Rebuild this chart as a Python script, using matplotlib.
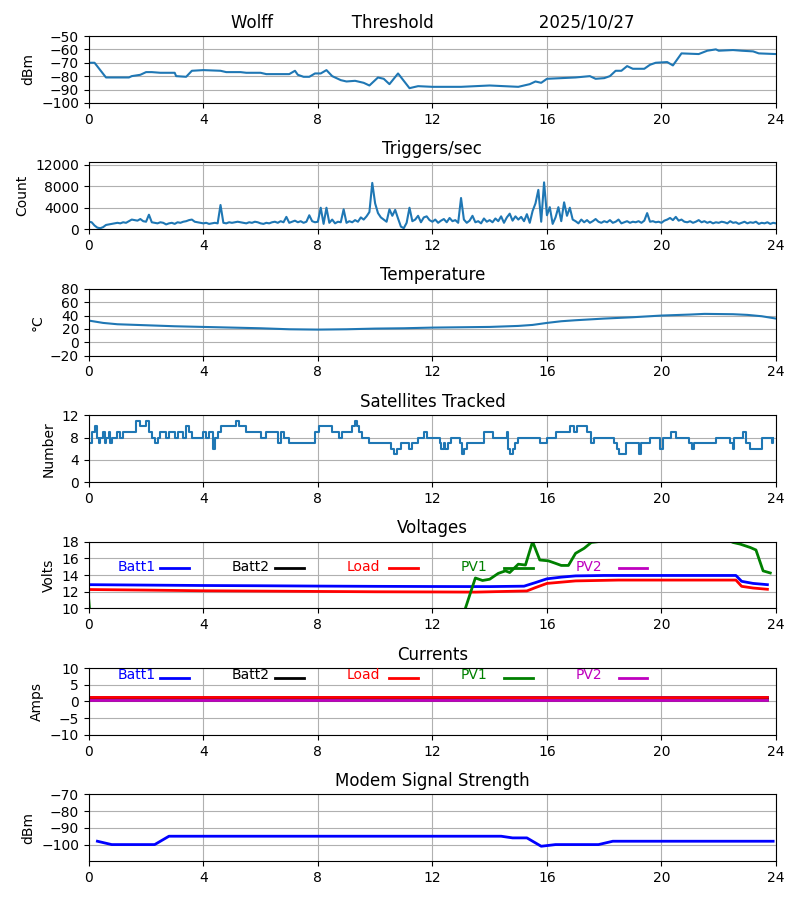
'''
Daily station summary plot: threshold, triggers, temperature,
satellites, voltages, currents and modem signal.
Output is out.png
'''

import matplotlib
matplotlib.use('Agg')
import matplotlib.pyplot as plt
import numpy as np

#Threshold (dBm)
thr_t = [0, 0.2, 0.6, 1.4, 1.5, 1.8, 2.0, 2.2, 2.5, 3.0, 3.05, 3.4, 3.6, 4.0, 4.6, 4.8, 5.3, 5.5,
         6.0, 6.2, 7.0, 7.2, 7.3, 7.5, 7.7, 7.9, 8.1, 8.3, 8.5, 8.8, 9.0, 9.3, 9.6, 9.8, 10.1,
         10.3, 10.5, 10.8, 11.2, 11.5, 12.0, 13.0, 14.0, 15.0, 15.4, 15.6, 15.8, 16.0, 16.5,
         17.0, 17.5, 17.7, 18.0, 18.2, 18.4, 18.6, 18.8, 19.0, 19.4, 19.6, 19.8, 20.2, 20.4,
         20.7, 21.3, 21.6, 21.9, 22.0, 22.5, 22.8, 23.2, 23.4, 24.0]
thr_v = [-70, -70, -81, -81, -80, -79, -77, -77, -77.5, -77.5, -80, -80.5, -76, -75.5, -76, -77,
         -77, -77.5, -77.5, -78.5, -78.5, -76, -79, -80.5, -80.5, -78, -78, -75.5, -80, -83,
         -84, -83.5, -85, -87, -81, -82, -86, -78, -89, -87.5, -88, -88, -87, -88, -86, -84,
         -85, -82, -81.5, -81, -80, -82, -81.5, -80, -76, -76, -72.5, -74.5, -74.5, -71.5,
         -70, -69.5, -72, -63, -63.5, -61, -60, -61, -60.5, -61, -61.5, -63, -63.5]

#Triggers/sec, one value every 6 minutes
trig = [1400, 1300, 700, 300, 200, 400, 800, 900, 1000, 1100,
        1200, 1100, 1300, 1200, 1500, 1800, 1700, 1600, 1900, 1500,
        1400, 2700, 1300, 1200, 1100, 1300, 1200, 900, 1100, 1200,
        1000, 1300, 1200, 1400, 1500, 1700, 1800, 1400, 1300, 1200,
        1100, 1200, 1000, 1100, 1200, 1100, 4500, 1200, 1100, 1300,
        1200, 1300, 1400, 1300, 1200, 1100, 1300, 1200, 1400, 1300,
        1100, 1000, 1200, 1100, 1300, 1400, 1200, 1500, 1300, 2300,
        1200, 1400, 1600, 1300, 1500, 1200, 1400, 2600, 1500, 1300,
        1400, 4000, 1000, 4000, 1200, 1800, 1100, 1400, 1300, 3700,
        1200, 1500, 1300, 1700, 1400, 2200, 1800, 2400, 3200, 8600,
        4800, 3000, 2200, 1800, 1400, 3700, 2500, 3600, 2000, 500,
        200, 1200, 4000, 1500, 1800, 2500, 1300, 2200, 2400, 1700,
        1400, 1800, 1200, 1600, 1900, 1300, 2100, 1500, 1700, 1200,
        5800, 1800, 1200, 1600, 2500, 1300, 1500, 1100, 2000, 1400,
        1700, 1300, 2000, 1500, 2400, 1200, 2200, 2900, 1600, 2400,
        1800, 2300, 1500, 2800, 1200, 3400, 4800, 7300, 1400, 8700,
        2600, 4100, 1000, 2200, 4100, 1500, 5000, 2500, 4000, 1800,
        1500, 1100, 1800, 1300, 1700, 1200, 1500, 1900, 1400, 1200,
        1500, 1300, 1700, 1200, 1400, 1800, 1100, 1300, 1500, 1200,
        1400, 1300, 1500, 1200, 1600, 3000, 1400, 1500, 1300, 1400,
        1200, 1600, 1800, 2100, 1700, 2300, 1600, 1800, 1400, 1300,
        1500, 1200, 1400, 1700, 1300, 1500, 1200, 1400, 1100, 1300,
        1200, 1400, 1300, 1100, 1500, 1200, 1300, 1000, 1200, 1400,
        1100, 1300, 1200, 1400, 1000, 1200, 1100, 1300, 1000, 1200, 1100]
trig_t = np.arange(len(trig)) * 0.1

#Temperature
temp_t = [0, 0.5, 1, 2, 3, 4, 5, 6, 7, 8, 9, 10, 11, 12, 13, 14, 15, 15.5, 16, 16.5, 17, 18,
          19, 20, 21, 21.5, 22.5, 23, 23.5, 24]
temp_v = [32.5, 29, 27, 25.5, 24, 23, 22, 21, 19.5, 19, 19.5, 20.5, 21, 22, 22.5, 23, 24.5, 26,
          29, 31.5, 33, 35.5, 37.5, 40, 41.5, 42.5, 42, 41, 39, 35.5]

#Satellites tracked (steps)
sat_t = [0, 0.1, 0.2, 0.3, 0.35, 0.4, 0.5, 0.55, 0.6, 0.7, 0.75, 0.8, 1.0, 1.1, 1.2, 1.65, 1.8,
         2.0, 2.1, 2.2, 2.3, 2.4, 2.5, 2.7, 2.8, 3.0, 3.1, 3.3, 3.4, 3.5, 3.6, 4.0, 4.1, 4.2,
         4.35, 4.4, 4.5, 4.6, 5.15, 5.25, 5.5, 6.0, 6.2, 6.6, 6.7, 6.8, 7.0, 7.25, 7.9, 8.05,
         8.5, 8.75, 8.85, 9.0, 9.2, 9.3, 9.35, 9.45, 9.55, 9.8, 10.55, 10.65, 10.75, 10.9, 11.2,
         11.3, 11.5, 11.7, 11.8, 12.0, 12.25, 12.3, 12.4, 12.45, 12.55, 12.65, 12.95, 13.05,
         13.1, 13.2, 13.8, 14.1, 14.6, 14.65, 14.7, 14.8, 14.9, 15.0, 15.75, 16.0, 16.3, 16.8,
         16.95, 17.05, 17.4, 17.55, 17.65, 18.35, 18.45, 18.5, 18.75, 19.2, 19.3, 19.6, 19.95,
         20.05, 20.35, 20.5, 20.95, 21.05, 21.15, 21.9, 22.4, 22.5, 22.55, 22.85, 22.95, 23.1,
         23.5, 23.85, 23.9]
sat_v = [7, 9, 10, 8, 7, 8, 9, 7, 8, 9, 7, 8, 9, 8, 9, 11, 10, 11, 9, 8, 7, 8, 9, 8, 9, 8, 9,
         8, 10, 9, 8, 9, 8, 9, 6, 8, 9, 10, 11, 10, 9, 8, 9, 7, 9, 8, 7, 7, 9, 10, 9, 8, 9, 9,
         10, 11, 10, 9, 8, 7, 6, 5, 6, 7, 6, 7, 8, 9, 8, 8, 7, 6, 7, 6, 7, 8, 7, 5, 6, 7, 9, 8,
         9, 6, 5, 6, 7, 8, 7, 8, 9, 10, 9, 10, 9, 7, 8, 7, 6, 5, 7, 5, 7, 8, 6, 8, 9, 8, 7, 6,
         7, 8, 7, 6, 8, 9, 7, 6, 8, 7, 8]

#Voltages
batt1_vt = [0, 2, 4, 6, 8, 10, 12, 14, 15.2, 15.6, 16, 16.5, 17, 18, 20, 22, 22.6, 22.8, 23.2, 23.7]
batt1_vv = [12.85, 12.8, 12.75, 12.72, 12.68, 12.65, 12.63, 12.62, 12.67, 13.1, 13.55, 13.75,
            13.9, 13.95, 13.95, 13.95, 13.95, 13.25, 13.0, 12.85]
load_vt = [0, 2, 4, 6, 8, 10, 12, 13.5, 15.3, 15.6, 16, 16.5, 17, 18.5, 20, 22, 22.6, 22.8, 23.2, 23.7]
load_vv = [12.27, 12.2, 12.12, 12.08, 12.04, 12.0, 11.98, 11.96, 12.1, 12.5, 13.0, 13.15, 13.3,
           13.4, 13.4, 13.4, 13.4, 12.65, 12.45, 12.3]
pv1_vt = [0, 0.25, 12.9, 13.15, 13.5, 13.75, 14.0, 14.3, 14.55, 14.7, 15.0, 15.25, 15.5, 15.75,
          16.05, 16.3, 16.5, 16.75, 17.0, 17.3, 17.55, 17.8, 18.5, 20.0, 21.5, 22.5, 22.75,
          23.1, 23.3, 23.55, 23.8]
pv1_vv = [11.0, 0, 0, 10.0, 13.65, 13.35, 13.5, 14.2, 14.5, 14.3, 15.3, 15.2, 18.0, 15.8, 15.7,
          15.4, 15.15, 15.15, 16.6, 17.2, 17.9, 18.0, 19.5, 20.0, 19.5, 17.9, 17.7, 17.3, 17.0,
          14.5, 14.25]
other_vt = [0, 23.7]
batt2_vv = [0, 0]
pv2_vv = [0, 0]

#Currents
cur_t = [0, 4, 8, 12, 16, 20, 23.7]
batt1_a = [1.4, 1.4, 1.4, 1.4, 1.4, 1.4, 1.4]
batt2_a = [0.7, 0.7, 0.7, 0.7, 0.7, 0.7, 0.7]
load_a = [1.2, 1.2, 1.2, 1.2, 1.15, 1.15, 1.2]
pv1_a = [0.4, 0.4, 0.4, 0.4, 0.4, 0.4, 0.4]
pv2_a = [0.35, 0.35, 0.35, 0.35, 0.35, 0.35, 0.35]

#Modem signal strength
modem_t = [0.3, 0.8, 2.3, 2.8, 14.4, 14.8, 15.3, 15.8, 16.3, 17.8, 18.3, 23.9]
modem_v = [-98, -100, -100, -95, -95, -96, -96, -101, -100, -100, -98, -98]

names = ['Batt1', 'Batt2', 'Load', 'PV1', 'PV2']
colors = ['b', 'k', 'r', 'g', 'm']

fig, axes = plt.subplots(7, 1, figsize=(8, 9))
fig.subplots_adjust(left=0.111, right=0.97, top=0.96, bottom=0.043, hspace=0.89)

ax = axes[0]
ax.plot(thr_t, thr_v, lw=1.5)
ax.set_title('Wolff' + ' ' * 15 + 'Threshold' + ' ' * 20 + '2025/10/27')
ax.set_ylabel('dBm')
ax.set_ylim(-100, -50)
ax.set_yticks(range(-100, -49, 10))

ax = axes[1]
ax.plot(trig_t, trig, lw=1.5)
ax.set_title('Triggers/sec')
ax.set_ylabel('Count')
ax.set_ylim(0, 12400)
ax.set_yticks([0, 4000, 8000, 12000])

ax = axes[2]
ax.plot(temp_t, temp_v, lw=1.5)
ax.set_title('Temperature')
ax.set_ylabel('°C')
ax.set_ylim(-20, 80)
ax.set_yticks(range(-20, 81, 20))

ax = axes[3]
ax.plot(sat_t, sat_v, lw=1.5, drawstyle='steps-post')
ax.set_title('Satellites Tracked')
ax.set_ylabel('Number')
ax.set_ylim(0, 12)
ax.set_yticks([0, 4, 8, 12])

ax = axes[4]
ax.plot(batt1_vt, batt1_vv, color='b', lw=2)
ax.plot(other_vt, batt2_vv, color='k', lw=2)
ax.plot(load_vt, load_vv, color='r', lw=2)
ax.plot(pv1_vt, pv1_vv, color='g', lw=2)
ax.plot(other_vt, pv2_vv, color='m', lw=2)
ax.set_title('Voltages')
ax.set_ylabel('Volts')
ax.set_ylim(10, 18)
ax.set_yticks(range(10, 19, 2))
for i in range(5):
    ax.text(1 + 4 * i, 14.5, names[i], color=colors[i])
    ax.plot([2.5 + 4 * i, 3.5 + 4 * i], [14.8, 14.8], color=colors[i], lw=2)

ax = axes[5]
for vals, c in zip([batt1_a, batt2_a, load_a, pv1_a, pv2_a], colors):
    ax.plot(cur_t, vals, color=c, lw=2)
ax.set_title('Currents')
ax.set_ylabel('Amps')
ax.set_ylim(-10, 10)
ax.set_yticks(range(-10, 11, 5))
for i in range(5):
    ax.text(1 + 4 * i, 6.6, names[i], color=colors[i])
    ax.plot([2.5 + 4 * i, 3.5 + 4 * i], [7.1, 7.1], color=colors[i], lw=2)

ax = axes[6]
ax.plot(modem_t, modem_v, color='b', lw=2)
ax.set_title('Modem Signal Strength')
ax.set_ylabel('dBm')
ax.set_ylim(-110, -70)
ax.set_yticks([-100, -90, -80, -70])

for ax in axes:
    ax.set_xlim(0, 24)
    ax.set_xticks(range(0, 25, 4))
    ax.grid(True)

plt.savefig('out.png', dpi=100)
